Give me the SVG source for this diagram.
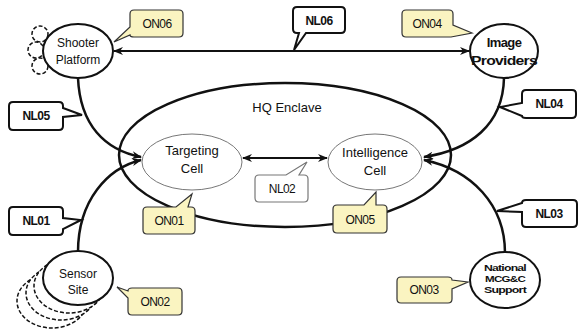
<svg xmlns="http://www.w3.org/2000/svg" width="583" height="332" viewBox="0 0 583 332">
  <style>
    text { font-family: "Liberation Sans", Arial, sans-serif; fill: #111; }
    .node { fill: #fff; stroke: #111; stroke-width: 2; }
    .cell { fill: #fff; stroke: #777; stroke-width: 1; }
    .ghost { fill: #fff; stroke: #111; stroke-width: 1.5; stroke-dasharray: 4 2; }
    .lbl { font-size: 12px; text-anchor: middle; }
    .big { font-size: 13px; }
    .small { font-size: 9.5px; }
    .bold { font-weight: bold; letter-spacing: -0.6px; }
    .link { fill: none; stroke: #111; stroke-width: 2.5; }
    .thin { fill: none; stroke: #111; stroke-width: 2; }
    .on { fill: #faf4c1; stroke: #333; stroke-width: 1.2; }
    .nl { fill: #fff; stroke: #111; stroke-width: 2; }
    .nl2 { fill: #fff; stroke: #777; stroke-width: 1.2; }
    .tag { font-size: 12px; text-anchor: middle; letter-spacing: -0.6px; }
  </style>
  <defs>
    <marker id="arr" viewBox="0 0 10 8" refX="9" refY="4" markerWidth="10" markerHeight="8" markerUnits="userSpaceOnUse" orient="auto-start-reverse">
      <path d="M0,0 L10,4 L0,8 L3,4 Z" fill="#111"/>
    </marker>
  </defs>
  <rect width="583" height="332" fill="#fff"/>

  <!-- HQ Enclave boundary -->
  <g id="hq-enclave">
    <ellipse cx="285" cy="155" rx="166" ry="72" fill="none" stroke="#111" stroke-width="2.5"/>
    <text x="287" y="112" font-size="13" text-anchor="middle">HQ Enclave</text>
  </g>

  <!-- links -->
  <g id="connectors">
    <path class="thin" d="M114,51 H469" marker-start="url(#arr)" marker-end="url(#arr)"/>
    <path class="link" d="M78,78 C80,125 105,150 141,157" marker-end="url(#arr)"/>
    <path class="link" d="M78,252 C78,200 108,168 141,160" marker-end="url(#arr)"/>
    <path class="link" d="M504,78 C503,125 470,150 424,157" marker-end="url(#arr)"/>
    <path class="link" d="M505,253 C505,205 472,170 424,160" marker-end="url(#arr)"/>
    <path class="thin" d="M243,158 H327" marker-start="url(#arr)" marker-end="url(#arr)"/>
  </g>

  <g id="shooter-platform">
    <circle class="ghost" cx="40" cy="34" r="8"/>
    <circle class="ghost" cx="36" cy="50" r="8"/>
    <circle class="ghost" cx="40" cy="66" r="8"/>
    <ellipse class="node" cx="78" cy="51" rx="35" ry="27"/>
    <text class="lbl" x="78" y="47">Shooter</text>
    <text class="lbl" x="78" y="64">Platform</text>
  </g>

  <g id="image-providers">
    <ellipse class="node" cx="504" cy="51" rx="34" ry="27"/>
    <text class="lbl big bold" x="504" y="47">Image</text>
    <text class="lbl big bold" x="504" y="65" textLength="66" lengthAdjust="spacingAndGlyphs">Providers</text>
  </g>

  <g id="targeting-cell">
    <ellipse class="cell" cx="192" cy="162" rx="50" ry="28"/>
    <text x="192" y="155" font-size="13" text-anchor="middle">Targeting</text>
    <text x="192" y="173" font-size="13" text-anchor="middle">Cell</text>
  </g>

  <g id="intelligence-cell">
    <ellipse class="cell" cx="375" cy="162" rx="47" ry="28"/>
    <text x="375" y="157" font-size="13" text-anchor="middle">Intelligence</text>
    <text x="375" y="175" font-size="13" text-anchor="middle">Cell</text>
  </g>

  <g id="sensor-site">
    <ellipse class="ghost" cx="52" cy="301" rx="35" ry="27"/>
    <ellipse class="ghost" cx="61" cy="293" rx="35" ry="27"/>
    <ellipse class="ghost" cx="69" cy="286" rx="35" ry="27"/>
    <ellipse class="node" cx="78" cy="278" rx="35" ry="27"/>
    <text class="lbl" x="78" y="278">Sensor</text>
    <text class="lbl" x="78" y="294">Site</text>
  </g>

  <g id="national-support">
    <ellipse class="node" cx="505" cy="280" rx="35" ry="28"/>
    <text class="lbl small bold" x="505" y="271" textLength="42" lengthAdjust="spacingAndGlyphs">National</text>
    <text class="lbl small bold" x="505" y="282" textLength="40" lengthAdjust="spacingAndGlyphs">MCG&amp;C</text>
    <text class="lbl small bold" x="505" y="293" textLength="42" lengthAdjust="spacingAndGlyphs">Support</text>
  </g>

  <!-- callout labels -->
  <g id="callouts">
    <path class="on" d="M134,10 H179 Q183,10 183,14 V33 Q183,37 179,37 H134 Q130,37 130,35 L114,42 L130,27 V14 Q130,10 134,10 Z"/>
    <text class="tag" x="157" y="28">ON06</text>

    <path class="nl" d="M297,7 H341 Q345,7 345,11 V29 Q345,33 341,33 H306 L294,50 L299,33 H297 Q293,33 293,29 V11 Q293,7 297,7 Z"/>
    <text class="tag bold" x="319" y="25">NL06</text>

    <path class="on" d="M406,10 H449 Q453,10 453,14 V25 L472,33 L451,37 H406 Q402,37 402,33 V14 Q402,10 406,10 Z"/>
    <text class="tag" x="427" y="28">ON04</text>

    <path class="nl" d="M13,102 H59 Q63,102 63,106 V108 L82,115 L63,117 V126 Q63,130 59,130 H13 Q9,130 9,126 V106 Q9,102 13,102 Z"/>
    <text class="tag bold" x="36" y="120">NL05</text>

    <path class="nl" d="M526,90 H572 Q576,90 576,94 V114 Q576,118 572,118 H526 Q522,118 522,116 L500,107 L522,103 V94 Q522,90 526,90 Z"/>
    <text class="tag bold" x="549" y="108">NL04</text>

    <path class="nl2" d="M259,175 H286 L307,162 L299,175 H304 Q308,175 308,179 V198 Q308,202 304,202 H259 Q255,202 255,198 V179 Q255,175 259,175 Z"/>
    <text class="tag" x="282" y="193">NL02</text>

    <path class="on" d="M147,207 H176 L192,194 L188,207 H191 Q195,207 195,211 V230 Q195,234 191,234 H147 Q143,234 143,230 V211 Q143,207 147,207 Z"/>
    <text class="tag" x="169" y="225">ON01</text>

    <path class="on" d="M337,205 H364 L376,192 L376,205 H383 Q387,205 387,209 V229 Q387,233 383,233 H337 Q333,233 333,229 V209 Q333,205 337,205 Z"/>
    <text class="tag" x="360" y="224">ON05</text>

    <path class="nl" d="M13,207 H59 Q63,207 63,211 V218 L81,220 L63,229 V231 Q63,235 59,235 H13 Q9,235 9,231 V211 Q9,207 13,207 Z"/>
    <text class="tag bold" x="36" y="225">NL01</text>

    <path class="nl" d="M526,200 H573 Q577,200 577,204 V223 Q577,227 573,227 H526 Q522,227 522,223 V212 L497,211 L522,203 Q522,200 526,200 Z"/>
    <text class="tag bold" x="549" y="218">NL03</text>

    <path class="on" d="M132,288 H178 Q182,288 182,292 V311 Q182,315 178,315 H132 Q128,315 128,311 V298 L117,287 L128,291 Q128,288 132,288 Z"/>
    <text class="tag" x="155" y="306">ON02</text>

    <path class="on" d="M401,277 H448 Q452,277 452,280 L468,282 L452,289 V299 Q452,303 448,303 H401 Q397,303 397,299 V281 Q397,277 401,277 Z"/>
    <text class="tag" x="424" y="294">ON03</text>
  </g>
</svg>
